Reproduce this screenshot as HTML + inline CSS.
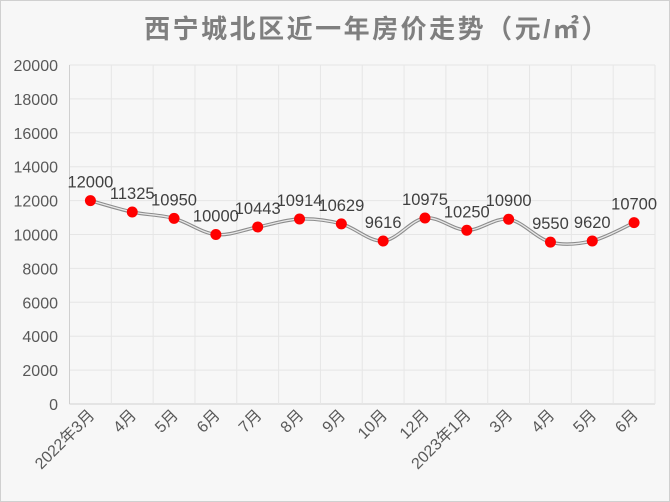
<!DOCTYPE html>
<html><head><meta charset="utf-8"><style>
html,body{margin:0;padding:0;background:#fff}
svg{display:block}
text{font-family:"Liberation Sans","Noto Sans CJK SC",sans-serif}
</style></head><body>
<svg id="s" width="670" height="502" xmlns="http://www.w3.org/2000/svg">
<rect x="0.5" y="0.5" width="669" height="501" fill="#f7f7f7" stroke="#d0d0d0"/>
<text x="377" y="38" text-anchor="middle" font-size="26" letter-spacing="2.5" font-weight="bold" fill="#7f7f7f">西宁城北区近一年房价走势（元/㎡）</text>
<g id="g"></g>
</svg>
<script>
var g=document.getElementById('g'),ns="http://www.w3.org/2000/svg";
function el(t,a,txt){var e=document.createElementNS(ns,t);for(var k in a)e.setAttribute(k,a[k]);if(txt!=null)e.textContent=txt;g.appendChild(e);return e;}
var L=69.5,R=655,T=65,B=404,n=14,w=(R-L)/n;
function Y(v){return B-(B-T)*v/20000;}
for(var i=0;i<=10;i++){var y=Y(i*2000);el('line',{x1:L,x2:R,y1:y,y2:y,stroke:i?'#e6e6e6':'#d0d0d0','stroke-width':1});
el('text',{x:58,y:y+6,'text-anchor':'end','font-size':16,fill:'#595959'},String(i*2000));}
for(var i=0;i<=n;i++){var x=L+i*w;el('line',{x1:x,x2:x,y1:T,y2:B,stroke:i?'#e6e6e6':'#d0d0d0'});}
var v=[12000,11325,10950,10000,10443,10914,10629,9616,10975,10250,10900,9550,9620,10700];
var c=["2022年3月","4月","5月","6月","7月","8月","9月","10月","12月","2023年1月","3月","4月","5月","6月"];
var p=v.map(function(a,i){return [L+w*(i+0.5),Y(a)];});
var d="M"+p[0][0]+","+p[0][1];
for(var i=0;i<n-1;i++){var p0=p[i-1]||p[i],p1=p[i],p2=p[i+1],p3=p[i+2]||p2;
var c1=[p1[0]+(p2[0]-p0[0])/6,p1[1]+(p2[1]-p0[1])/6],c2=[p2[0]-(p3[0]-p1[0])/6,p2[1]-(p3[1]-p1[1])/6];
d+=" C"+c1+" "+c2+" "+p2;}
el('path',{d:d,fill:'none',stroke:'#8c8c8c','stroke-width':3.5});
el('path',{d:d,fill:'none',stroke:'#e8e8e8','stroke-width':1.3});
p.forEach(function(q,i){el('circle',{cx:q[0],cy:q[1],r:5.5,fill:'#ff0000'});
el('text',{x:q[0],y:q[1]-13,'text-anchor':'middle','font-size':16.5,fill:'#404040'},String(v[i]));
var lx=q[0]+5,ly=416;
el('text',{x:lx,y:ly,'text-anchor':'end','font-size':16,fill:'#595959',transform:'rotate(-45 '+lx+' '+ly+')'},c[i]);});
</script>
</body></html>
